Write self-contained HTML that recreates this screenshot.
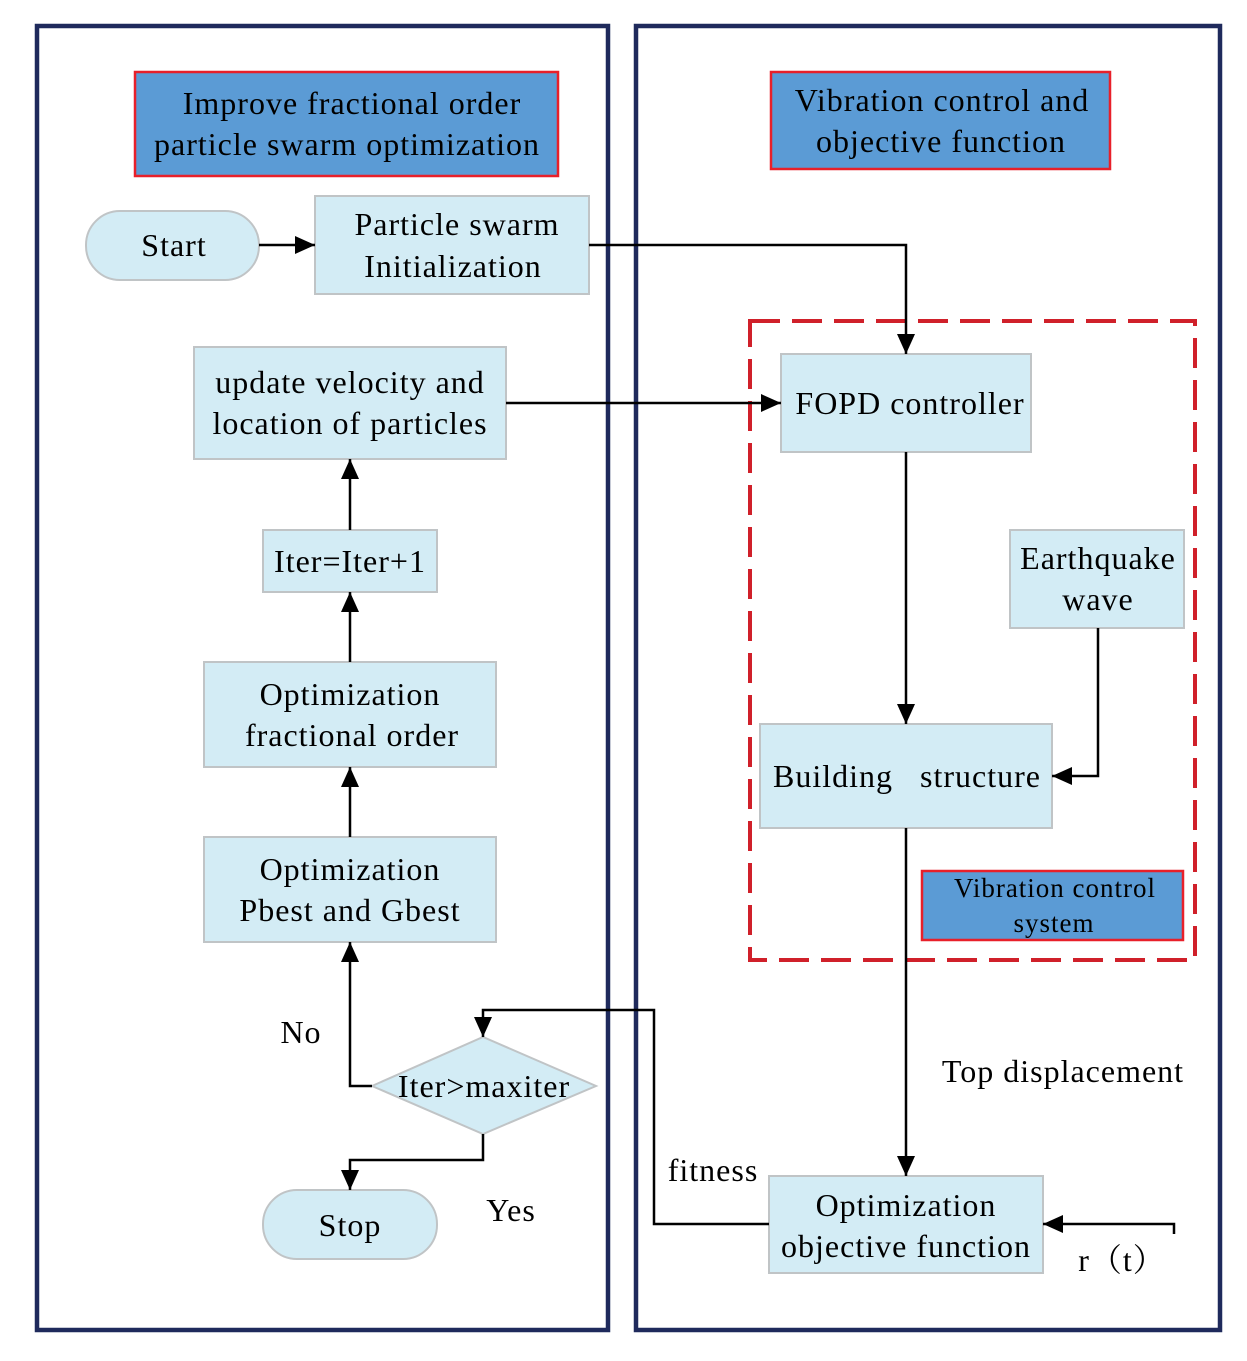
<!DOCTYPE html>
<html><head><style>
html,body{margin:0;padding:0;background:#fff;}
svg text{font-family:"Liberation Serif",serif;font-size:32px;letter-spacing:1px;fill:#000;text-anchor:middle;}
</style></head><body>
<svg width="1247" height="1356" viewBox="0 0 1247 1356" xmlns="http://www.w3.org/2000/svg">
<defs>
<marker id="ar" viewBox="0 0 10 10" refX="10" refY="5" markerWidth="20" markerHeight="18" markerUnits="userSpaceOnUse" orient="auto" preserveAspectRatio="none"><path d="M0,0 L10,5 L0,10 z" fill="#000"/></marker>
</defs>
<rect x="37" y="26" width="571" height="1304" fill="none" stroke="#1f2a5c" stroke-width="4.5"/>
<rect x="636" y="26" width="584" height="1304" fill="none" stroke="#1f2a5c" stroke-width="4.5"/>
<rect x="135" y="72" width="423" height="104" fill="#5b9bd5" stroke="#e8202a" stroke-width="2.5"/>
<text x="352" y="114">Improve fractional order</text>
<text x="347" y="155">particle swarm optimization</text>
<rect x="771" y="72" width="339" height="97" fill="#5b9bd5" stroke="#e8202a" stroke-width="2.5"/>
<text x="942" y="111">Vibration control and</text>
<text x="941" y="152">objective function</text>
<rect x="750" y="321" width="445" height="639" fill="none" stroke="#d0202a" stroke-width="4" stroke-dasharray="30,12"/>
<g fill="#d3ecf5" stroke="#c0c4c6" stroke-width="2">
<rect x="86" y="211" width="173" height="69" rx="34"/>
<rect x="315" y="196" width="274" height="98"/>
<rect x="194" y="347" width="312" height="112"/>
<rect x="263" y="530" width="174" height="62"/>
<rect x="204" y="662" width="292" height="105"/>
<rect x="204" y="837" width="292" height="105"/>
<polygon points="372,1086 483,1037 596,1086 483,1134"/>
<rect x="263" y="1190" width="174" height="69" rx="34"/>
<rect x="781" y="354" width="250" height="98"/>
<rect x="1010" y="530" width="174" height="98"/>
<rect x="760" y="724" width="292" height="104"/>
<rect x="769" y="1176" width="274" height="97"/>
</g>
<rect x="922" y="871" width="261" height="69" fill="#5b9bd5" stroke="#e8202a" stroke-width="2.5"/>
<g fill="none" stroke="#000" stroke-width="2.5">
<path d="M259,245 H315" marker-end="url(#ar)"/>
<path d="M589,245 H906 V354" marker-end="url(#ar)"/>
<path d="M506,403 H781" marker-end="url(#ar)"/>
<path d="M350,530 V459" marker-end="url(#ar)"/>
<path d="M350,662 V592" marker-end="url(#ar)"/>
<path d="M350,837 V767" marker-end="url(#ar)"/>
<path d="M372,1086 H350 V942" marker-end="url(#ar)"/>
<path d="M483,1134 V1160 H350 V1190" marker-end="url(#ar)"/>
<path d="M906,452 V724" marker-end="url(#ar)"/>
<path d="M1098,628 V776 H1052" marker-end="url(#ar)"/>
<path d="M906,828 V1176" marker-end="url(#ar)"/>
<path d="M1174,1234 V1224 H1043" marker-end="url(#ar)"/>
<path d="M769,1224 H654 V1010 H483 V1037" marker-end="url(#ar)"/>
</g>
<text x="174" y="256">Start</text>
<text x="457" y="235">Particle swarm</text>
<text x="453" y="277">Initialization</text>
<text x="350" y="393">update velocity and</text>
<text x="350" y="434">location of particles</text>
<text x="350" y="572">Iter=Iter+1</text>
<text x="350" y="705">Optimization</text>
<text x="352" y="746">fractional order</text>
<text x="350" y="880">Optimization</text>
<text x="350" y="921">Pbest and Gbest</text>
<text x="484" y="1097">Iter&gt;maxiter</text>
<text x="350" y="1236">Stop</text>
<text x="301" y="1043">No</text>
<text x="511" y="1221">Yes</text>
<text x="910" y="414">FOPD controller</text>
<text x="1098" y="569">Earthquake</text>
<text x="1098" y="610">wave</text>
<text x="907" y="787" xml:space="preserve">Building   structure</text>
<text x="1055" y="897" style="font-size:27px">Vibration control</text>
<text x="1054" y="932" style="font-size:27px">system</text>
<text x="1063" y="1082">Top displacement</text>
<text x="713" y="1181">fitness</text>
<text x="906" y="1216">Optimization</text>
<text x="906" y="1257">objective function</text>
<text x="1122" y="1271" style="font-family:'Liberation Serif','Noto Serif CJK SC',serif">r（t）</text>
</svg>
</body></html>
